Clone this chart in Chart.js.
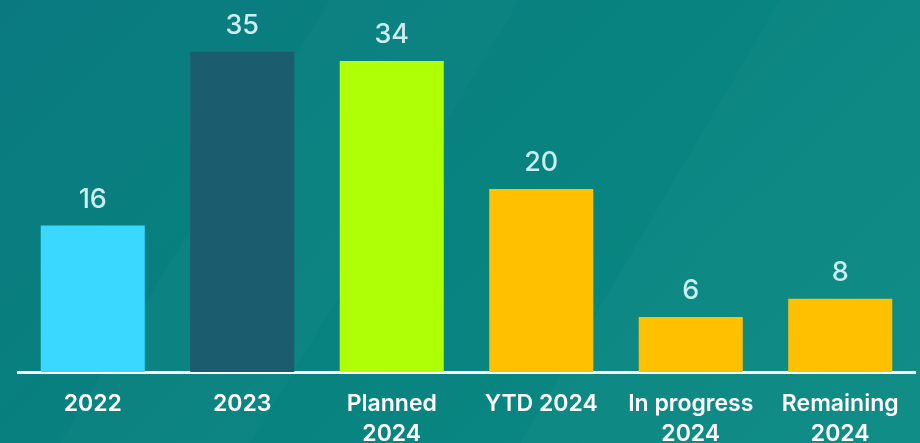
<!DOCTYPE html>
<html>
<head>
<meta charset="utf-8">
<script src="https://cdn.jsdelivr.net/npm/chart.js@4.4.1/dist/chart.umd.min.js"></script>
<style>
  html, body { margin: 0; padding: 0; }
  body {
    width: 920px;
    height: 443px;
    overflow: hidden;
    background: linear-gradient(135deg, #0a7a80 0%, #08827f 45%, #0a8782 75%, #0d8b85 100%);
  }
  #wrap { position: relative; width: 920px; height: 443px; }
</style>
</head>
<body>
<div id="wrap">
  <canvas id="projectsChart" width="920" height="443"></canvas>
</div>
<script>
  const categories = [
    '2022',
    '2023',
    ['Planned', '2024'],
    'YTD 2024',
    ['In progress', '2024'],
    ['Remaining', '2024']
  ];
  const projectCounts = [16, 35, 34, 20, 6, 8];
  const barColors = ['#3ad7ff', '#1b5c6e', '#afff06', '#ffc000', '#ffc000', '#ffc000'];

  // soft diagonal light streaks across the teal background
  const backdrop = {
    id: 'backdrop',
    beforeDraw(chart) {
      const c = chart.ctx;
      c.save();
      c.fillStyle = 'rgba(255,255,255,0.02)';
      c.beginPath();
      c.moveTo(60, 443);
      c.lineTo(330, 0);
      c.lineTo(520, 0);
      c.lineTo(250, 443);
      c.closePath();
      c.fill();
      c.fillStyle = 'rgba(255,255,255,0.018)';
      c.beginPath();
      c.moveTo(520, 443);
      c.lineTo(780, 0);
      c.lineTo(920, 0);
      c.lineTo(920, 443);
      c.closePath();
      c.fill();
      c.restore();
    }
  };

  // value above each bar
  const valueLabels = {
    id: 'valueLabels',
    afterDatasetsDraw(chart) {
      const c = chart.ctx;
      const meta = chart.getDatasetMeta(0);
      c.save();
      c.fillStyle = '#c8eef0';
      c.font = '500 27px Inter';
      c.textAlign = 'center';
      c.textBaseline = 'alphabetic';
      meta.data.forEach((bar, i) => {
        c.fillText(String(projectCounts[i]), bar.x, bar.y - 18);
      });
      c.restore();
    }
  };

  const ctx = document.getElementById('projectsChart').getContext('2d');
  const chart = new Chart(ctx, {
    type: 'bar',
    data: {
      labels: categories,
      datasets: [{
        data: projectCounts,
        backgroundColor: barColors,
        borderWidth: 0,
        categoryPercentage: 1,
        barPercentage: 0.696
      }]
    },
    options: {
      responsive: false,
      animation: false,
      layout: {
        padding: { top: 6, left: 18, right: 5, bottom: 0 }
      },
      plugins: {
        legend: { display: false },
        tooltip: { enabled: false }
      },
      scales: {
        y: {
          display: false,
          min: 0,
          max: 40
        },
        x: {
          grid: { display: false, drawTicks: false },
          border: { display: true, color: '#ffffff', width: 3 },
          ticks: {
            color: '#ffffff',
            font: { family: 'Inter', size: 23, weight: '600', lineHeight: 1.3 },
            padding: 17,
            maxRotation: 0,
            autoSkip: false
          },
          afterFit(scale) {
            scale.height = 71;
          }
        }
      }
    },
    plugins: [backdrop, valueLabels]
  });
</script>
</body>
</html>
